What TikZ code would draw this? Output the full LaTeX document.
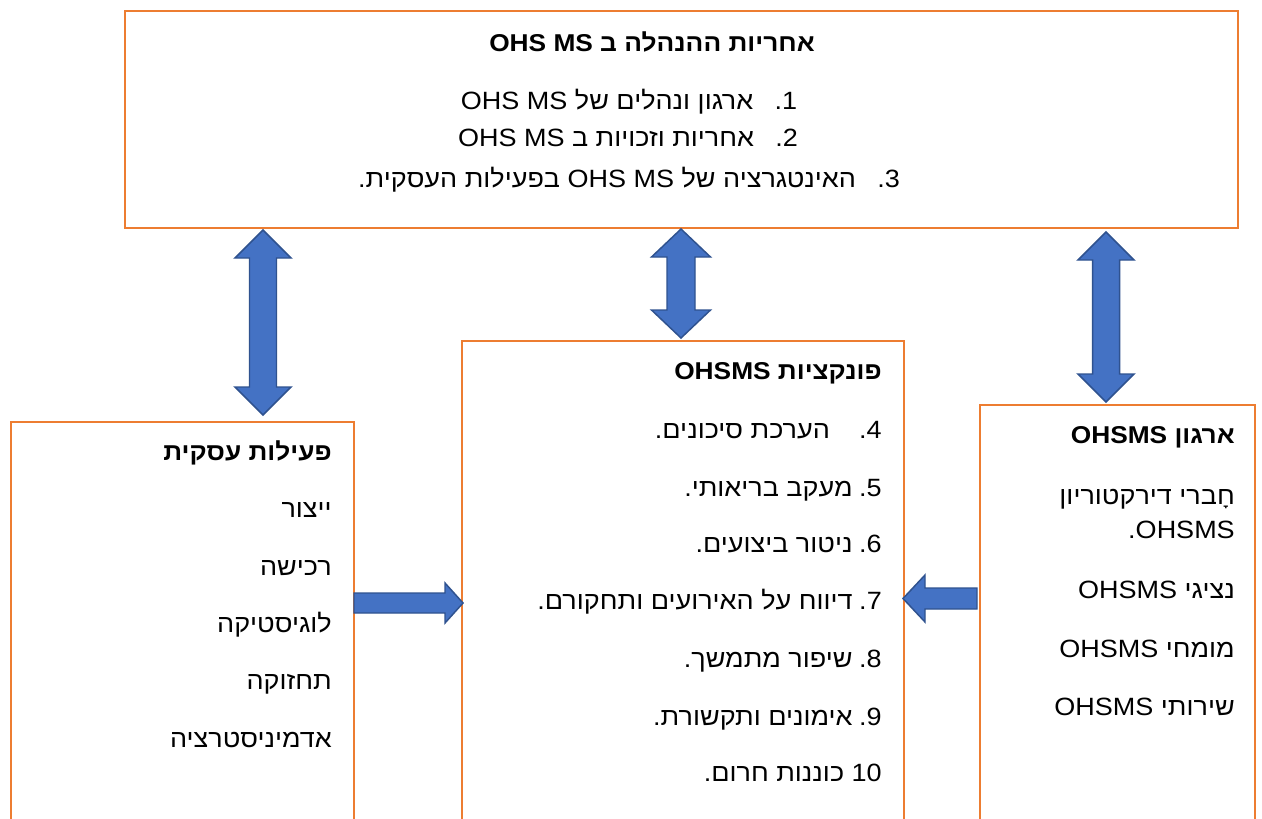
\documentclass[tikz,border=0pt]{standalone}
\usepackage{fontspec}
\usetikzlibrary{calc}
\TeXXeTstate=1
\setmainfont{Liberation Sans}
\newfontfamily\heb[Script=Hebrew,FakeStretch=1.08]{Liberation Sans}
\definecolor{boxorange}{HTML}{ED7D31}
\definecolor{arrowfill}{HTML}{4472C4}
\definecolor{arrowline}{HTML}{2F528F}
\newcommand\VDArrow[5]{% start, end, shaft half, head half, head length
  \draw[blk] (#1) -- ($(#1)+(#4,#5)$) -- ($(#1)+(#3,#5)$) -- ($(#2)+(#3,-#5)$)
    -- ($(#2)+(#4,-#5)$) -- (#2) -- ($(#2)+(-#4,-#5)$) -- ($(#2)+(-#3,-#5)$)
    -- ($(#1)+(-#3,#5)$) -- ($(#1)+(-#4,#5)$) -- cycle;}
\newcommand\HSArrow[5]{% tail, tip, shaft half, head half, signed head length
  \draw[blk] ($(#1)+(0,-#3)$) -- ($(#2)+({-1*(#5)},-#3)$) -- ($(#2)+({-1*(#5)},-#4)$)
    -- (#2) -- ($(#2)+({-1*(#5)},#4)$) -- ($(#2)+({-1*(#5)},#3)$) -- ($(#1)+(0,#3)$) -- cycle;}
\begin{document}
\begin{tikzpicture}[x=0.75pt,y=-0.75pt,
  box/.style={draw=boxorange,line width=1.6pt,inner sep=0pt,anchor=north west},
  blk/.style={fill=arrowfill,draw=arrowline,line width=1.1pt,line join=miter},
  txt/.style={inner sep=0pt,anchor=base east,font=\heb\fontsize{18.75pt}{25.5pt}\selectfont},
  ttl/.style={txt,font=\heb\bfseries\fontsize{18.25pt}{22pt}\selectfont},
  toptxt/.style={inner sep=0pt,anchor=base,font=\heb\fontsize{18.75pt}{22pt}\selectfont},
  toptitle/.style={toptxt,font=\heb\bfseries\fontsize{18.25pt}{22pt}\selectfont}]
\useasboundingbox (0,0) rectangle (1262,818);
\clip (0,0) rectangle (1262,818);
\fill[white] (0,0) rectangle (1262,818);
% boxes
\node[box,minimum width=834.75pt,minimum height=162.75pt] (top) at (124,10) {};
\node[box,minimum width=257.25pt,minimum height=306.75pt] (left) at (10,421) {};
\node[box,minimum width=331.5pt,minimum height=367.5pt] (mid) at (461,340) {};
\node[box,minimum width=206.25pt,minimum height=319.5pt] (right) at (979,404) {};
% vertical double arrows
\coordinate (a1s) at (263,230); \coordinate (a1e) at (263,415);
\coordinate (a2s) at (681,229); \coordinate (a2e) at (681,338);
\coordinate (a3s) at (1106,232); \coordinate (a3e) at (1106,402);
\VDArrow{a1s}{a1e}{13.5}{28}{28}
\VDArrow{a2s}{a2e}{14}{29.5}{28}
\VDArrow{a3s}{a3e}{13.5}{28}{28}
% horizontal arrows
\coordinate (h1t) at (354,603); \coordinate (h1h) at (463,603);
\coordinate (h2t) at (977,598.5); \coordinate (h2h) at (903,598.5);
\HSArrow{h1t}{h1h}{10}{20}{18}
\HSArrow{h2t}{h2h}{10.5}{23.5}{-22}
% top box text
\node[toptitle] (t0) at (652,51) {\beginR אחריות ההנהלה ב \beginL OHS MS\endL\endR};
\node[toptxt] (t1) at (629,109) {\beginR 1\kern0pt.\hspace{16pt}ארגון ונהלים של \beginL OHS MS\endL\endR};
\node[toptxt] (t2) at (628,146) {\beginR 2\kern0pt.\hspace{16pt}אחריות וזכויות ב \beginL OHS MS\endL\endR};
\node[toptxt] (t3) at (629,187) {\beginR 3\kern0pt.\hspace{16pt}האינטגרציה של \beginL OHS MS\endL{} בפעילות העסקית.\endR};
% left box text
\node[ttl] (l0) at (332,460) {\beginR פעילות עסקית\endR};
\node[txt] (l1) at (332,517) {\beginR ייצור\endR};
\node[txt] (l2) at (332,575) {\beginR רכישה\endR};
\node[txt] (l3) at (332,632) {\beginR לוגיסטיקה\endR};
\node[txt] (l4) at (332,689) {\beginR תחזוקה\endR};
\node[txt] (l5) at (332,747) {\beginR אדמיניסטרציה\endR};
% middle box text
\node[ttl] (m0) at (882,379) {\beginR פונקציות \beginL OHSMS\endL\endR};
\node[txt] (m4) at (882,438) {\beginR 4\kern0pt.\hspace{22pt}הערכת סיכונים.\endR};
\node[txt] (m5) at (882,496) {\beginR 5\kern0pt.\hspace{5pt}מעקב בריאותי.\endR};
\node[txt] (m6) at (882,552) {\beginR 6\kern0pt.\hspace{5pt}ניטור ביצועים.\endR};
\node[txt] (m7) at (882,609) {\beginR 7\kern0pt.\hspace{5pt}דיווח על האירועים ותחקורם.\endR};
\node[txt] (m8) at (882,667) {\beginR 8\kern0pt.\hspace{5pt}שיפור מתמשך.\endR};
\node[txt] (m9) at (882,725) {\beginR 9\kern0pt.\hspace{5pt}אימונים ותקשורת.\endR};
\node[txt] (m10) at (882,781) {\beginR\beginL 10\endL{} כוננות חרום.\endR};
% right box text
\node[ttl] (r0) at (1235,443) {\beginR ארגון \beginL OHSMS\endL\endR};
\node[txt,align=right] (r1) at (1235,538) {\beginR חָברי דירקטוריון\endR\\\beginR\beginL OHSMS\endL\kern0pt.\endR};
\node[txt] (r3) at (1235,598) {\beginR נציגי \beginL OHSMS\endL\endR};
\node[txt] (r4) at (1235,657) {\beginR מומחי \beginL OHSMS\endL\endR};
\node[txt] (r5) at (1235,715) {\beginR שירותי \beginL OHSMS\endL\endR};
\end{tikzpicture}
\end{document}
